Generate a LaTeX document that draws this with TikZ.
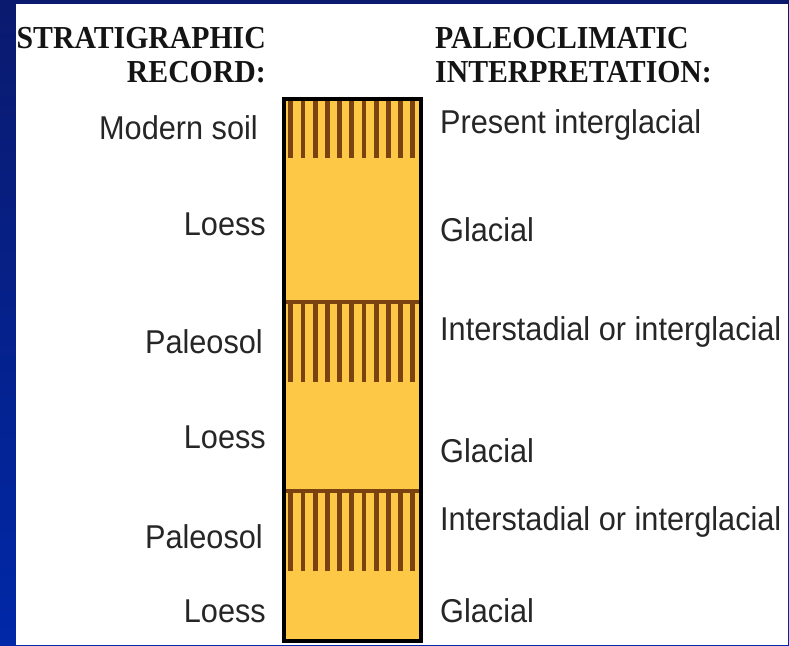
\documentclass[tikz,border=0pt]{standalone}
\usepackage{fontspec}
\setmainfont[FakeStretch=0.93]{Liberation Sans}
\newfontfamily\hdrfont[FakeStretch=0.93]{Liberation Serif}
\definecolor{navytop}{HTML}{0A1A6E}
\definecolor{navybot}{HTML}{0028A8}
\definecolor{loess}{HTML}{FDC846}
\definecolor{soil}{HTML}{7A4210}
\definecolor{txt}{HTML}{262626}
\begin{document}
\begin{tikzpicture}[x=1pt,y=-1pt,
  hdr/.style={inner sep=0pt,font=\hdrfont\bfseries\fontsize{32}{32}\selectfont,text=black!92},
  lbl/.style={inner sep=0pt,font=\fontsize{33}{33}\selectfont,text=txt},
  lft/.style={lbl,anchor=base east},
  rgt/.style={lbl,anchor=base west}]
\useasboundingbox (0,0) rectangle (789,645);
% background
\shade[top color=navytop,bottom color=navybot] (0,0) rectangle (789,645);
\fill[white] (16,4) rectangle (788,645);
% column
\fill[loess] (284,99) rectangle (421,641);
\foreach \ya/\yb in {99/158,302/382,491/571}{
  \foreach \i in {0,...,10}{
    \fill[soil] ({290.7+12.2*\i-2.4},\ya) rectangle ({290.7+12.2*\i+2.4},\yb);
  }
}
\fill[soil] (284,300) rectangle (421,304);
\fill[soil] (284,489) rectangle (421,493);
\draw[line width=4pt,black] (284,99) rectangle (421,641);
% headers
\node[hdr,anchor=base east] (h1) at (266,48) {STRATIGRAPHIC};
\node[hdr,anchor=base east] (h2) at (266,82) {RECORD:};
\node[hdr,anchor=base west] (h3) at (435,48) {PALEOCLIMATIC};
\node[hdr,anchor=base west] (h4) at (435,82) {INTERPRETATION:};
% left labels
\node[lft] (l1) at (258,139) {Modern soil};
\node[lft] (l2) at (266,235) {Loess};
\node[lft] (l3) at (263,353) {Paleosol};
\node[lft] (l4) at (266,448) {Loess};
\node[lft] (l5) at (263,548) {Paleosol};
\node[lft] (l6) at (266,622) {Loess};
% right labels
\node[rgt] (r1) at (440,133) {Present interglacial};
\node[rgt] (r2) at (440,241) {Glacial};
\node[rgt] (r3) at (440,340) {Interstadial or interglacial};
\node[rgt] (r4) at (440,462) {Glacial};
\node[rgt] (r5) at (440,530) {Interstadial or interglacial};
\node[rgt] (r6) at (440,622) {Glacial};
\end{tikzpicture}
\end{document}
